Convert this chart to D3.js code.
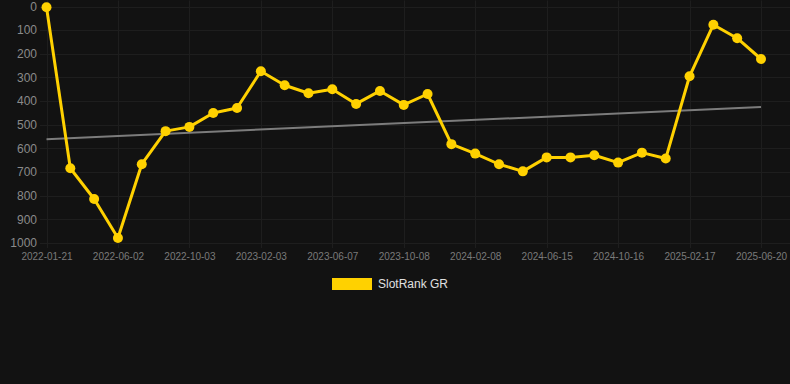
<!DOCTYPE html>
<html>
<head>
<meta charset="utf-8">
<script src="https://cdn.jsdelivr.net/npm/d3@7"></script>
<style>
  html, body { margin: 0; padding: 0; background: #121212; }
  svg { display: block; font-family: "Liberation Sans", Arial, sans-serif; }
</style>
</head>
<body>
<div id="chart"></div>
<script>
// SlotRank GR rank over time (lower is better, axis reversed)
const dates = [
  '2022-01-21', '2022-03-04', '2022-04-16', '2022-06-02', '2022-07-13', '2022-08-23',
  '2022-10-03', '2022-11-13', '2022-12-24', '2023-02-03', '2023-03-16', '2023-04-27',
  '2023-06-07', '2023-07-18', '2023-08-28', '2023-10-08', '2023-11-18', '2023-12-29',
  '2024-02-08', '2024-03-20', '2024-05-03', '2024-06-15', '2024-07-26', '2024-09-05',
  '2024-10-16', '2024-11-26', '2025-01-07', '2025-02-17', '2025-03-30', '2025-05-10',
  '2025-06-20'
];
const ranks = [
  3, 684, 814, 979, 667, 527, 509, 450, 429, 274, 333, 367, 350, 412, 357, 416,
  370, 582, 622, 667, 697, 638, 638, 629, 660, 618, 643, 295, 77, 134, 222
];
const trendEnds = [561, 425];
const yTicks = [0, 100, 200, 300, 400, 500, 600, 700, 800, 900, 1000];
const seriesName = 'SlotRank GR';

const W = 790, H = 384;
const plot = { left: 46.5, right: 761, top: 6.5, bottom: 243 };
const yellow = '#ffd100';

const svg = d3.select('#chart').append('svg')
  .attr('width', W)
  .attr('height', H);

svg.append('rect').attr('width', W).attr('height', H).attr('fill', '#121212');

const x = d3.scalePoint()
  .domain(dates)
  .range([plot.left, plot.right]);

const y = d3.scaleLinear()
  .domain([0, 1000])
  .range([plot.top, plot.bottom]);

const xTickValues = dates.filter((d, i) => i % 3 === 0);

// grid lines
svg.append('g')
  .selectAll('line')
  .data(yTicks)
  .join('line')
  .attr('x1', 40).attr('x2', W)
  .attr('y1', d => Math.round(y(d)) + 0.5)
  .attr('y2', d => Math.round(y(d)) + 0.5)
  .attr('stroke', '#1e1e1e')
  .attr('stroke-width', 1);

svg.append('g')
  .selectAll('line')
  .data(xTickValues)
  .join('line')
  .attr('x1', d => Math.round(x(d)) + 0.5)
  .attr('x2', d => Math.round(x(d)) + 0.5)
  .attr('y1', plot.top - 6)
  .attr('y2', plot.bottom + 5)
  .attr('stroke', '#1e1e1e')
  .attr('stroke-width', 1);

// y axis labels
const yAxis = svg.append('g')
  .attr('transform', 'translate(37,0)')
  .call(d3.axisLeft(y).tickValues(yTicks).tickFormat(d3.format('d')).tickSize(0).tickPadding(0));
yAxis.select('.domain').remove();
yAxis.selectAll('text')
  .attr('fill', '#8a8a8a')
  .style('font-size', '12px')
  .style('font-family', '"Liberation Sans", Arial, sans-serif');

// x axis labels
const xAxis = svg.append('g')
  .attr('transform', `translate(0,${plot.bottom + 10})`)
  .call(d3.axisBottom(x).tickValues(xTickValues).tickSize(0).tickPadding(0));
xAxis.select('.domain').remove();
xAxis.selectAll('text')
  .attr('fill', '#7a7a7a')
  .style('font-size', '10px')
  .style('font-family', '"Liberation Sans", Arial, sans-serif');

// trend line
svg.append('line')
  .attr('x1', x(dates[0]))
  .attr('x2', x(dates[dates.length - 1]))
  .attr('y1', y(trendEnds[0]))
  .attr('y2', y(trendEnds[1]))
  .attr('stroke', '#7c7c7c')
  .attr('stroke-width', 2);

// series line
const data = dates.map((d, i) => ({ date: d, rank: ranks[i] }));

svg.append('path')
  .datum(data)
  .attr('fill', 'none')
  .attr('stroke', yellow)
  .attr('stroke-width', 3)
  .attr('stroke-linejoin', 'round')
  .attr('d', d3.line().x(d => x(d.date)).y(d => y(d.rank)));

svg.append('g')
  .selectAll('circle')
  .data(data)
  .join('circle')
  .attr('cx', d => x(d.date))
  .attr('cy', d => y(d.rank))
  .attr('r', 5)
  .attr('fill', yellow);

// legend
const legend = svg.append('g').attr('transform', 'translate(332,278)');
legend.append('rect')
  .attr('width', 40)
  .attr('height', 12)
  .attr('fill', yellow);
legend.append('text')
  .attr('x', 46)
  .attr('y', 6)
  .attr('dy', '0.35em')
  .attr('fill', '#e0e0e0')
  .style('font-size', '12px')
  .text(seriesName);
</script>
</body>
</html>
